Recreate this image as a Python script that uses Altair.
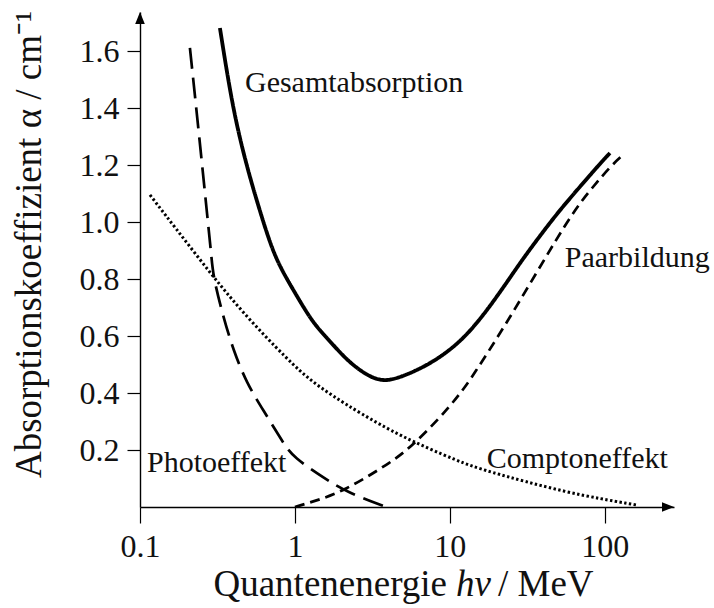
import altair as alt
import pandas as pd

# ---- data ----
gesamt_E = [0.328, 0.398, 0.490, 0.581, 0.690, 0.80, 1.02, 1.306, 1.68, 2.16, 2.81, 3.64, 4.76, 7.77, 12.9, 21.0, 28.3, 38.1, 51.3, 69.0, 92.9, 108]
gesamt_a = [1.681, 1.393, 1.193, 1.056, 0.926, 0.842, 0.744, 0.646, 0.582, 0.516, 0.467, 0.439, 0.453, 0.505, 0.596, 0.751, 0.856, 0.951, 1.042, 1.123, 1.204, 1.242]

photo_E = [0.210, 0.240, 0.279, 0.289, 0.297, 0.345, 0.400, 0.488, 0.624, 0.841, 0.970, 1.61, 2.16, 3.70]
photo_a = [1.611, 1.312, 0.961, 0.881, 0.807, 0.667, 0.551, 0.435, 0.340, 0.225, 0.175, 0.095, 0.053, 0.004]

compton_E = [0.116, 0.244, 0.442, 0.929, 1.25, 1.76, 2.63, 4.76, 11.6, 16.3, 56.9, 160.8]
compton_a = [1.095, 0.867, 0.691, 0.509, 0.446, 0.389, 0.330, 0.249, 0.158, 0.130, 0.049, 0.007]

paar_E = [1.0, 1.306, 2.04, 4.42, 5.77, 8.62, 11.6, 14.1, 23.3, 38.1, 62.2, 83.7, 111, 131]
paar_a = [0.0, 0.019, 0.053, 0.165, 0.218, 0.312, 0.396, 0.460, 0.646, 0.842, 1.035, 1.123, 1.200, 1.235]

x_ticks = [0.1, 1, 10, 100]
y_ticks = [0.2, 0.4, 0.6, 0.8, 1.0, 1.2, 1.4, 1.6]

label_text = ["Gesamtabsorption", "Paarbildung", "Photoeffekt", "Comptoneffekt"]
label_E = [0.476, 55.2, 0.111, 17.3]
label_a = [1.456, 0.842, 0.123, 0.137]

X_MAX = 280
Y_MAX = 1.737
FONT = "Liberation Serif"
INK = "#111111"


def frame(xs, ys):
    return pd.DataFrame({"E": xs, "alpha": ys})


x_scale = alt.Scale(type="log", domain=[0.1, X_MAX], nice=False)
y_scale = alt.Scale(domain=[0, Y_MAX], nice=False, zero=False)

x_axis = alt.Axis(values=x_ticks, format="~g", grid=False, title=None,
                  domainColor="black", domainWidth=1.4, tickColor="black",
                  tickWidth=1.2, tickSize=16, labelFont=FONT, labelFontSize=32,
                  labelColor=INK, labelPadding=8, labelFlush=False)
y_axis = alt.Axis(values=y_ticks, format=".1f", grid=False,
                  title="Absorptionskoeffizient α / cm⁻¹",
                  titleFont=FONT, titleFontSize=37, titleFontWeight="normal",
                  titleColor=INK, titleAngle=270, titleAlign="center",
                  titleBaseline="alphabetic", titleX=-100, titleY=232,
                  domainColor="black", domainWidth=1.4, tickColor="black",
                  tickWidth=1.2, tickSize=13, labelFont=FONT, labelFontSize=32,
                  labelColor=INK, labelPadding=8, labelFlush=False)

X_ENC = alt.X("E:Q", scale=x_scale, axis=x_axis)
Y_ENC = alt.Y("alpha:Q", scale=y_scale, axis=y_axis)


def curve(df, dash, width, interp="basis"):
    return alt.Chart(df).mark_line(
        color="black", strokeWidth=width, strokeDash=dash,
        interpolate=interp, strokeCap="butt", clip=False
    ).encode(x=X_ENC, y=Y_ENC)


gesamt = curve(frame(gesamt_E, gesamt_a), [1, 0], 3.8)
photo = curve(frame(photo_E, photo_a), [21, 9], 2.7)
paar = curve(frame(paar_E, paar_a), [10, 6], 2.7)
compton = curve(frame(compton_E, compton_a), [2.4, 2.4], 3.0)

labels = alt.Chart(pd.DataFrame({"t": label_text, "E": label_E, "alpha": label_a})).mark_text(
    font=FONT, fontSize=30, color=INK, align="left", baseline="alphabetic"
).encode(x=X_ENC, y=Y_ENC, text="t:N")

# arrow heads at the axis ends
x_arrow = alt.Chart(pd.DataFrame({"E": [X_MAX], "alpha": [0]})).mark_point(
    shape="M0,0L-2,-0.8L-2,0.8Z", size=144, filled=True, color="black",
    opacity=1, clip=False
).encode(x=X_ENC, y=Y_ENC)
y_arrow = alt.Chart(pd.DataFrame({"E": [0.1], "alpha": [Y_MAX]})).mark_point(
    shape="M0,0L-0.8,2L0.8,2Z", size=144, filled=True, color="black",
    opacity=1, clip=False
).encode(x=X_ENC, y=Y_ENC)

# x-axis title with italic "hν"
title_parts = pd.DataFrame({"t": ["Quantenenergie", "hν", "/ MeV"]})
t1 = alt.Chart(title_parts.iloc[[0]]).mark_text(
    font=FONT, fontSize=37, color=INK, align="right", baseline="alphabetic"
).encode(text="t:N", x=alt.value(307), y=alt.value(584))
t2 = alt.Chart(title_parts.iloc[[1]]).mark_text(
    font=FONT, fontSize=37, fontStyle="italic", color=INK, align="left", baseline="alphabetic"
).encode(text="t:N", x=alt.value(316), y=alt.value(584))
t3 = alt.Chart(title_parts.iloc[[2]]).mark_text(
    font=FONT, fontSize=37, color=INK, align="left", baseline="alphabetic"
).encode(text="t:N", x=alt.value(358), y=alt.value(584))

chart = alt.layer(gesamt, photo, paar, compton, labels, x_arrow, y_arrow, t1, t2, t3).properties(
    width=534, height=495,
    autosize=alt.AutoSizeParams(type="none"),
    padding={"left": 140, "top": 12, "right": 40, "bottom": 101},
    background="white",
).configure_view(stroke=None)

chart.save("out.html", embed_options={"renderer": "svg", "actions": False})
